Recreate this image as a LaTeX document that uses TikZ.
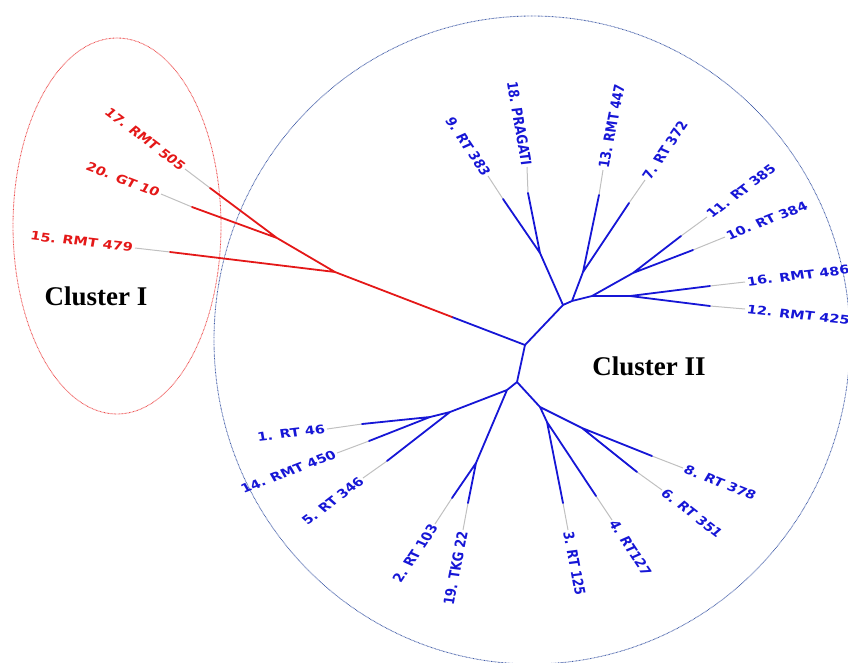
\documentclass[tikz,border=0pt]{standalone}
\usepackage{fontspec}
\newfontfamily\lblfont{DejaVu Sans}
\newfontfamily\clfont{Liberation Serif}
\definecolor{treeblue}{RGB}{22,22,214}
\definecolor{treered}{RGB}{228,24,24}
\definecolor{tipgrey}{RGB}{192,192,192}
\definecolor{ringblue}{RGB}{60,88,165}
\definecolor{ringred}{RGB}{236,70,70}
\tikzset{
  br/.style={draw=treeblue, line width=1.8pt, line cap=round},
  rbr/.style={draw=treered, line width=1.8pt, line cap=round},
  tipline/.style={draw=tipgrey, line width=1pt},
  ring/.style={line width=0.85pt, dash pattern=on 0.7pt off 0.7pt},
  lbl/.style={font=\lblfont\bfseries\fontsize{11.9}{12}\selectfont, inner sep=1.6pt,
              xscale=1.22, rotate={atan2(1.22*sin(#1),cos(#1))}},
  lblR/.style={lbl=#1, anchor=west, text=treeblue},
  lblL/.style={lbl=#1, anchor=east, text=treeblue},
  lblRed/.style={lbl=#1, anchor=east, text=treered},
  cluster/.style={font=\clfont\bfseries\fontsize{27}{27}\selectfont, text=black, inner sep=0pt},
}
\begin{document}
\begin{tikzpicture}[x=1pt, y=-1pt]
\useasboundingbox (0,0) rectangle (848,662);
\clip (0,0) rectangle (848,662);

% cluster outlines
\draw[ring, ringred] (117,226) ellipse [x radius=104, y radius=188];
\draw[ring, ringblue] (532,340) ellipse [x radius=318, y radius=324];

% inner nodes
\coordinate (A) at (525,345);
\coordinate (rb) at (452,317);
\coordinate (P) at (335,272);
\coordinate (Q) at (277,238);
\coordinate (B) at (517,382);
\coordinate (C) at (563,305);
\coordinate (D) at (572,301);
\coordinate (J9) at (540,253);
\coordinate (E) at (583,272);
\coordinate (F) at (592,296);
\coordinate (G) at (633,273);
\coordinate (H) at (630,296);
\coordinate (I) at (507,390);
\coordinate (J) at (450,412);
\coordinate (L) at (430,417);
\coordinate (K) at (476,463);
\coordinate (M) at (540,407);
\coordinate (N) at (547,422);
\coordinate (O) at (582,428);

% leaf ends: b = end of branch, g = end of grey tip
\coordinate (b17) at (210,188); \coordinate (g17) at (185,169);
\coordinate (b20) at (192,207); \coordinate (g20) at (161,194);
\coordinate (b15) at (170,252); \coordinate (g15) at (135,248);
\coordinate (b9)  at (503,199); \coordinate (g9)  at (488,176);
\coordinate (b18) at (528,193); \coordinate (g18) at (527,167);
\coordinate (b13) at (599,195); \coordinate (g13) at (603,170);
\coordinate (b7)  at (629,203); \coordinate (g7)  at (645,180);
\coordinate (b11) at (681,236); \coordinate (g11) at (707,217);
\coordinate (b10) at (693,250); \coordinate (g10) at (725,237);
\coordinate (b16) at (710,286); \coordinate (g16) at (745,282);
\coordinate (b12) at (710,306); \coordinate (g12) at (745,309);
\coordinate (b8)  at (652,456); \coordinate (g8)  at (683,468);
\coordinate (b6)  at (637,472); \coordinate (g6)  at (662,490);
\coordinate (b4)  at (596,496); \coordinate (g4)  at (612,520);
\coordinate (b3)  at (563,503); \coordinate (g3)  at (568,530);
\coordinate (b19) at (468,503); \coordinate (g19) at (463,530);
\coordinate (b2)  at (452,498); \coordinate (g2)  at (435,524);
\coordinate (b5)  at (387,461); \coordinate (g5)  at (363,478);
\coordinate (b14) at (369,441); \coordinate (g14) at (337,453);
\coordinate (b1)  at (362,424); \coordinate (g1)  at (327,429);

% grey tips
\foreach \t in {17,20,15,9,18,13,7,11,10,16,12,8,6,4,3,19,2,5,14,1}
  \draw[tipline] (b\t) -- (g\t);

% cluster I branches
\draw[br] (A) -- (rb);
\draw[rbr] (rb) -- (P) (P) -- (Q) (Q) -- (b17) (Q) -- (b20) (P) -- (b15);

% cluster II branches
\draw[br] (A) -- (B) (A) -- (C) (C) -- (J9) (C) -- (D)
  (J9) -- (b9) (J9) -- (b18)
  (D) -- (E) (D) -- (F) (E) -- (b13) (E) -- (b7)
  (F) -- (G) (F) -- (H) (G) -- (b11) (G) -- (b10) (H) -- (b16) (H) -- (b12)
  (B) -- (I) (B) -- (M)
  (I) -- (J) (I) -- (K) (J) -- (L) (J) -- (b5) (L) -- (b1) (L) -- (b14)
  (K) -- (b2) (K) -- (b19)
  (M) -- (N) (M) -- (O) (N) -- (b3) (N) -- (b4) (O) -- (b6) (O) -- (b8);

% labels
\node[lblRed=-36.9] (t17) at (g17) {17. RMT 505};
\node[lblRed=-20.8] (t20) at (g20) {20. GT 10};
\node[lblRed=-6.8]  (t15) at (g15) {15. RMT 479};
\node[lblL=-56]   (t9)  at (g9)  {9. RT 383};
\node[lblL=-80]   (t18) at (g18) {18. PRAGATI};
\node[lblR=78.9]  (t13) at (g13) {13. RMT 447};
\node[lblR=56]    (t7)  at (g7)  {7. RT 372};
\node[lblR=37.1]  (t11) at (g11) {11. RT 385};
\node[lblR=21.4]  (t10) at (g10) {10. RT 384};
\node[lblR=6.9]   (t16) at (g16) {16. RMT 486};
\node[lblR=-6.4]  (t12) at (g12) {12. RMT 425};
\node[lblR=-21.6] (t8)  at (g8)  {8. RT 378};
\node[lblR=-37.8] (t6)  at (g6)  {6. RT 351};
\node[lblR=-56.4] (t4)  at (g4)  {4. RT127};
\node[lblR=-79]   (t3)  at (g3)  {3. RT 125};
\node[lblL=79]    (t19) at (g19) {19. TKG 22};
\node[lblL=56.1]  (t2)  at (g2)  {2. RT 103};
\node[lblL=37.2]  (t5)  at (g5)  {5. RT 346};
\node[lblL=21.2]  (t14) at (g14) {14. RMT 450};
\node[lblL=6.6]   (t1)  at (g1)  {1. RT 46};

% cluster names
\node[cluster] (c1) at (96,296) {Cluster I};
\node[cluster] (c2) at (649,366) {Cluster II};
\end{tikzpicture}
\end{document}
